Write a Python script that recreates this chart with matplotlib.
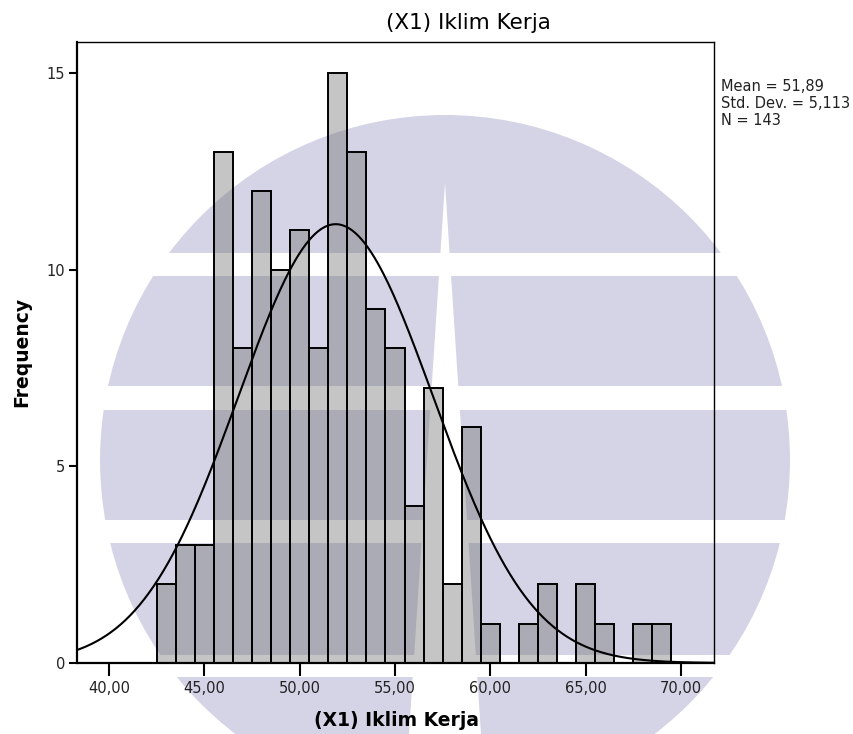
import numpy as np
import matplotlib
matplotlib.use("Agg")
import matplotlib.pyplot as plt
from matplotlib.patches import Circle, Rectangle, Polygon

# histogram data (bin centres, counts)
bin_centers = [43, 44, 45, 46, 47, 48, 49, 50, 51, 52, 53, 54, 55, 56,
               57, 58, 59, 60, 61, 62, 63, 64, 65, 66, 67, 68, 69]
counts = [2, 3, 3, 13, 8, 12, 10, 11, 8, 15, 13, 9, 8, 4,
          7, 2, 6, 1, 0, 1, 2, 0, 2, 1, 0, 1, 1]

mean_val = 51.89
std_val = 5.113
n_val = 143

x_ticks = [40, 45, 50, 55, 60, 65, 70]
x_tick_labels = ["40,00", "45,00", "50,00", "55,00", "60,00", "65,00", "70,00"]
y_ticks = [0, 5, 10, 15]
y_tick_labels = ["0", "5", "10", "15"]

TITLE = "(X1) Iklim Kerja"
XLABEL = "(X1) Iklim Kerja"
YLABEL = "Frequency"
LAVENDER = "#d5d4e7"

W, H = 854, 734
fig = plt.figure(figsize=(W / 100, H / 100), dpi=100)

# watermark logo behind the chart, in pixel coords
bg = fig.add_axes([0, 0, 1, 1], zorder=0)
bg.set_xlim(0, W)
bg.set_ylim(H, 0)
bg.axis("off")
bg.add_patch(Circle((445, 460), 345, color=LAVENDER, lw=0))
for y0, y1 in [(253, 276), (386, 410), (520, 543), (655, 677)]:
    bg.add_patch(Rectangle((0, y0), W, y1 - y0, color="white", lw=0))
bg.add_patch(Polygon([(445, 183), (409, H), (481, H)], closed=True,
                     color="white", lw=0))

ax = fig.add_axes([77.5 / W, 71 / H, 636.5 / W, 621 / H], zorder=1)
ax.patch.set_alpha(0)

ax.bar(bin_centers, counts, width=1.0, color="#6e6e6e", alpha=0.4,
       edgecolor="none", zorder=2)
ax.bar(bin_centers, counts, width=1.0, fill=False, edgecolor="black",
       linewidth=1.4, zorder=3)

# fitted normal curve from the reported stats (bin width 1)
xs = np.linspace(38.35, 71.73, 400)
curve = n_val * 1.0 / (std_val * np.sqrt(2 * np.pi)) * np.exp(-0.5 * ((xs - mean_val) / std_val) ** 2)
ax.plot(xs, curve, color="black", lw=1.5, zorder=4)

ax.set_xlim(38.35, 71.73)
ax.set_ylim(0, 15.79)
ax.set_xticks(x_ticks)
ax.set_xticklabels(x_tick_labels)
ax.set_yticks(y_ticks)
ax.set_yticklabels(y_tick_labels)
ax.tick_params(axis="x", direction="out", length=9, width=1.5, pad=4,
               labelsize=10.5, labelcolor="#222222")
ax.tick_params(axis="y", direction="out", length=6, width=1.5, pad=3,
               labelsize=10.5, labelcolor="#222222")
for side in ["left", "bottom"]:
    ax.spines[side].set_linewidth(1.6)
for side in ["top", "right"]:
    ax.spines[side].set_linewidth(1.0)

fig.text(468 / W, 1 - 23 / H, TITLE, ha="center", va="center", fontsize=15.5)
fig.text(397 / W, 1 - 721 / H, XLABEL, ha="center", va="center",
         fontsize=13.5, fontweight="bold")
fig.text(22 / W, 1 - 352 / H, YLABEL, ha="center", va="center",
         fontsize=13.5, fontweight="bold", rotation=90)
stats = "Mean = 51,89\nStd. Dev. = 5,113\nN = 143"
fig.text(721 / W, 1 - 79 / H, stats, ha="left", va="top", fontsize=10.5,
         linespacing=1.15, color="#222222")

fig.savefig("out.png", dpi=100)
